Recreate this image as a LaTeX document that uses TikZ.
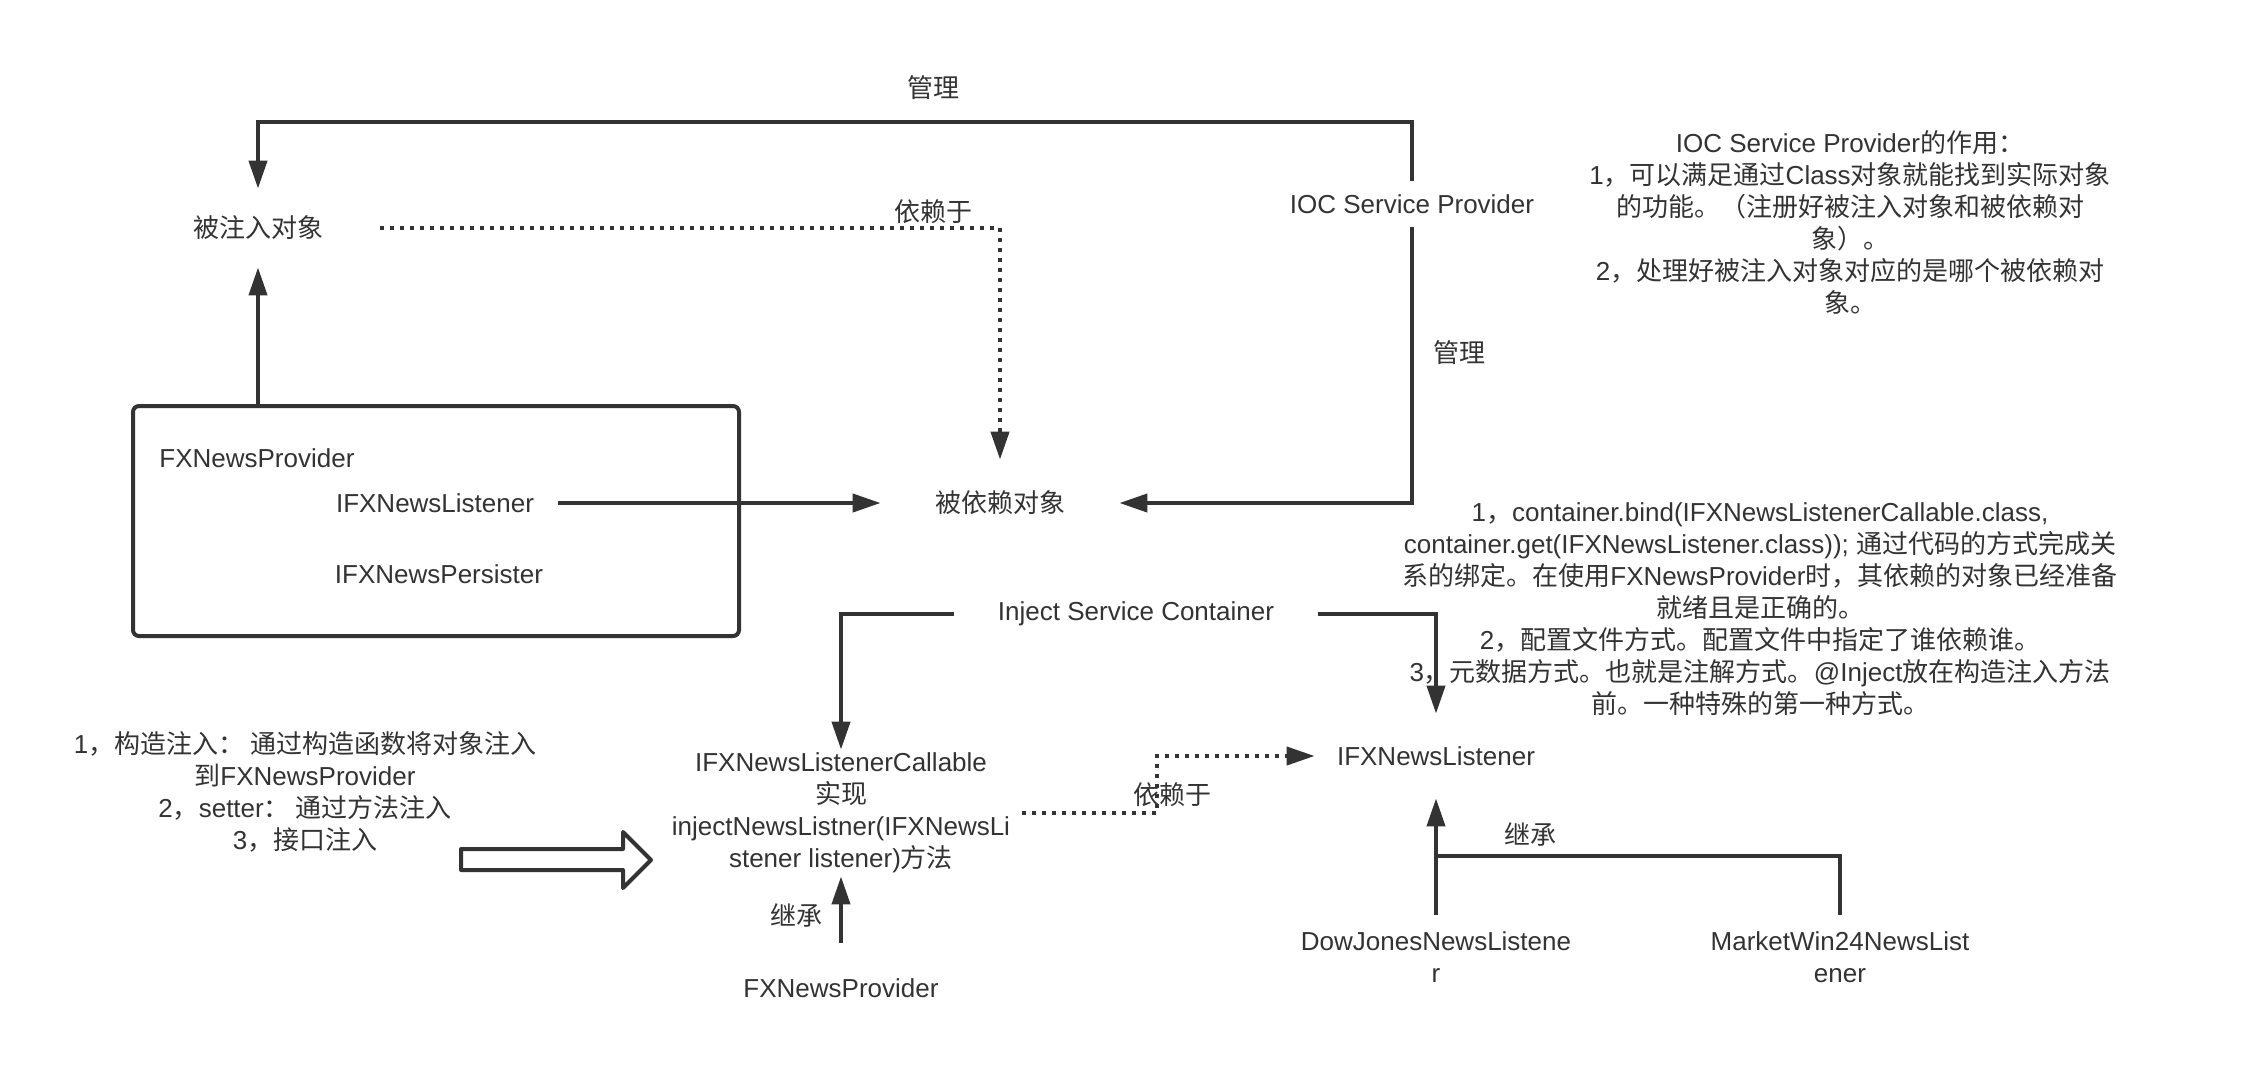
\documentclass[tikz,border=0pt]{standalone}
\usepackage{fontspec}
\setmainfont{Liberation Sans}
\newfontfamily\zhfont{Noto Sans CJK SC}
\newcommand\Z[1]{{\zhfont #1}}
\usetikzlibrary{arrows.meta}
\definecolor{ln}{HTML}{333333}
\definecolor{txt}{HTML}{333333}
\begin{document}
\begin{tikzpicture}[x=0.5pt,y=-0.5pt,
  lbl/.style={text=txt, font=\fontsize{13pt}{16pt}\selectfont, align=center, inner sep=0pt},
  conn/.style={draw=ln, line width=2pt},
  arr/.style={conn, -{Triangle[length=14pt,width=9pt]}},
  dotarr/.style={conn, dash pattern=on 2pt off 3pt, -{Triangle[length=14pt,width=9pt]}}]
\fill[white] (0,0) rectangle (2250,1078);
\useasboundingbox (0,0) rectangle (2250,1078);

% helper coordinates
\coordinate (topy) at (0,122);
\coordinate (dbend) at (1168,0);
\coordinate (inhy) at (0,856);

% nodes
\node[lbl] (lblA) at (933,88) {\Z{管理}};
\node[lbl, minimum width=122pt, minimum height=39pt] (injected) at (258,228) {\Z{被注入对象}};
\node[lbl, minimum height=23pt] (ioc) at (1412,204) {IOC Service Provider};
\node[lbl] (iocnote) at (1850,222) {IOC Service Provider\Z{的作用：}\\
1\Z{，可以满足通过}Class\Z{对象就能找到实际对象}\\
\Z{的功能。（注册好被注入对象和被依赖对}\\
\Z{象）。}\\
2\Z{，处理好被注入对象对应的是哪个被依赖对}\\
\Z{象。}};
\node[lbl] (lblB) at (1459,353) {\Z{管理}};
\node[lbl] (lblC) at (933,212) {\Z{依赖于}};

\node[conn, rounded corners=3pt, minimum width=303pt, minimum height=115pt, inner sep=0pt] (box) at (436,521) {};
\node[lbl, anchor=west] (fxp) at (159,458) {FXNewsProvider};
\node[lbl, minimum width=123pt] (ifl) at (435,503) {IFXNewsListener};
\node[lbl] (ifp) at (439,574) {IFXNewsPersister};
\node[lbl, minimum width=119pt, minimum height=43pt] (dep) at (1000,503) {\Z{被依赖对象}};

\node[lbl, minimum width=181.5pt] (inject) at (1136,614) {Inject Service Container};
\node[lbl] (bindnote) at (1760,609) {1\Z{，}container.bind(IFXNewsListenerCallable.class,\\
container.get(IFXNewsListener.class)); \Z{通过代码的方式完成关}\\
\Z{系的绑定。在使用}FXNewsProvider\Z{时，其依赖的对象已经准备}\\
\Z{就绪且是正确的。}\\
2\Z{，配置文件方式。配置文件中指定了谁依赖谁。}\\
3\Z{，元数据方式。也就是注解方式。}@Inject\Z{放在构造注入方法}\\
\Z{前。一种特殊的第一种方式。}};

\node[lbl] (methods) at (305,792) {1\Z{，构造注入： 通过构造函数将对象注入}\\
\Z{到}FXNewsProvider\\
2\Z{，}setter\Z{： 通过方法注入}\\
3\Z{，接口注入}};

\node[lbl, minimum width=192pt, minimum height=63pt] (callable) at (841,813) {IFXNewsListenerCallable\\
\Z{实现}\\
injectNewsListner(IFXNewsLi\\
stener listener)\Z{方法}};
\node[lbl, minimum height=45pt] (fxp2) at (841,988) {FXNewsProvider};
\node[lbl] (lblD) at (796,915) {\Z{继承}};
\node[lbl] (lblE) at (1172,795) {\Z{依赖于}};
\node[lbl, minimum width=121pt, minimum height=42pt] (ifl2) at (1436,756) {IFXNewsListener};
\node[lbl] (lblF) at (1530,834) {\Z{继承}};
\node[lbl, minimum height=42.5pt] (dj) at (1436,957.5) {DowJonesNewsListene\\r};
\node[lbl, minimum height=42.5pt] (mw) at (1840,957.5) {MarketWin24NewsList\\ener};

% connectors
\draw[arr] (ioc.north) -- (ioc.north |- topy) -| (injected.north);
\draw[arr] (ioc.south) |- (dep.east);
\draw[dotarr] (injected.east) -| (dep.north);
\draw[arr] (injected.south |- box.north) -- (injected.south);
\draw[arr] (ifl.east) -- (dep.west);
\draw[arr] (inject.west) -| (callable.north);
\draw[arr] (inject.east) -| (ifl2.north);
\draw[arr] (fxp2.north) -- (callable.south);
\draw[dotarr] ([xshift=-5.5pt]callable.east) -- ([xshift=-5.5pt]callable.east -| dbend) |- (ifl2.west);
\draw[arr] (dj.north) -- (ifl2.south);
\draw[conn] (mw.north) -- (mw.north |- inhy) -- (dj.north |- inhy);

% hollow block arrow
\draw[conn, fill=white, line join=round] (461,849) -- (623,849) -- (623,832) -- (651,860) -- (623,888) -- (623,870) -- (461,870) -- cycle;
\end{tikzpicture}
\end{document}
